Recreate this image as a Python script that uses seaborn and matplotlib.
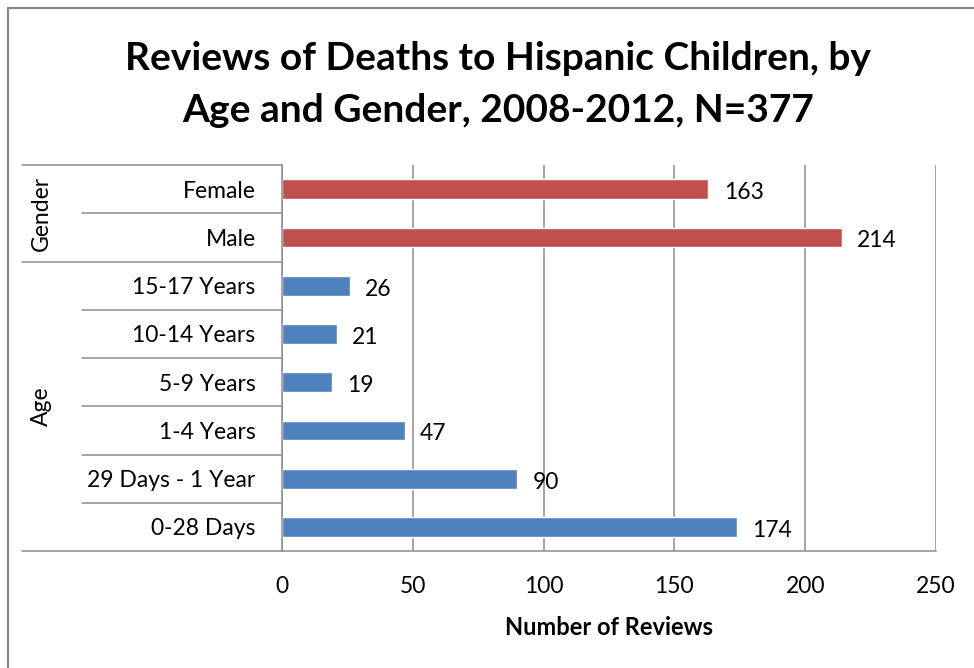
import pandas as pd
import matplotlib.pyplot as plt
import matplotlib.transforms as mtransforms
from matplotlib.lines import Line2D
import seaborn as sns

# chart data, top to bottom
categories = ['Female', 'Male', '15-17 Years', '10-14 Years', '5-9 Years',
              '1-4 Years', '29 Days - 1 Year', '0-28 Days']
groups = ['Gender', 'Gender', 'Age', 'Age', 'Age', 'Age', 'Age', 'Age']
reviews = [163, 214, 26, 21, 19, 47, 90, 174]
x_ticks = [0, 50, 100, 150, 200, 250]

RED = '#C0504D'
BLUE = '#4F81BD'
GRID = '#8C8C8C'
FS = 16.5

df = pd.DataFrame({'category': categories, 'group': groups, 'reviews': reviews})

sns.set_style('white')
plt.rcParams['font.family'] = ['Lato', 'DejaVu Sans']
plt.rcParams['text.color'] = 'black'
plt.rcParams['axes.labelcolor'] = 'black'
plt.rcParams['xtick.labelcolor'] = 'black'
plt.rcParams['ytick.labelcolor'] = 'black'

fig = plt.figure(figsize=(9.74, 6.68), dpi=100)
ax = fig.add_axes([0.2895, 0.1751, 0.6715, 0.5778])

sns.barplot(data=df, y='category', x='reviews', hue='group', orient='h',
            palette={'Gender': RED, 'Age': BLUE}, dodge=False, width=0.41,
            legend=False, saturation=1, ax=ax)

# value labels right of each bar, sitting a touch below centre like Excel
for cont in ax.containers:
    labels = ax.bar_label(cont, padding=11, fontsize=FS, color='black')
    for t in labels:
        t.xyann = (t.xyann[0], t.xyann[1] - 2.5)

n = len(categories)
ax.set_xlim(0, 250)
ax.set_ylim(n - 0.5, -0.5)
ax.set_xticks(x_ticks)
ax.grid(axis='x', color=GRID, linewidth=1.1)
ax.grid(axis='y', visible=False)
ax.set_axisbelow(True)

for side in ['top', 'right']:
    ax.spines[side].set_visible(False)
for side in ['left', 'bottom']:
    ax.spines[side].set_color(GRID)
    ax.spines[side].set_linewidth(1.1)

ax.tick_params(axis='x', direction='out', length=5, width=1.1, color=GRID,
               labelsize=FS, pad=13)
ax.tick_params(axis='y', length=0, labelsize=FS, pad=19)
ax.set_ylabel('')
ax.set_xlabel('Number of Reviews', fontsize=17, fontweight='bold', labelpad=14)

# category separator lines on the left, longer ones between groups
trans = mtransforms.blended_transform_factory(ax.transAxes, ax.transData)
for i in range(n + 1):
    y = i - 0.5
    is_group_edge = i in (0, n) or groups[i - 1] != groups[i]
    x0 = -0.3976 if is_group_edge else -0.3058
    ax.plot([x0, 0], [y, y], color=GRID, linewidth=1.1, transform=trans,
            clip_on=False)

# group labels
for g in ['Gender', 'Age']:
    idx = [i for i, gg in enumerate(groups) if gg == g]
    mid = (idx[0] + idx[-1]) / 2
    ax.text(-0.368, mid, g, rotation=90, ha='center', va='center',
            fontsize=FS, transform=trans)

# two-line title
fig.text(0.511, 0.8952, 'Reviews of Deaths to Hispanic Children, by',
         fontsize=28, fontweight='bold', ha='center', va='baseline')
fig.text(0.511, 0.8174, 'Age and Gender, 2008-2012, N=377',
         fontsize=28, fontweight='bold', ha='center', va='baseline')

# chart frame (left and top edges visible)
fig.add_artist(Line2D([0.0082, 0.0082], [0, 0.988], transform=fig.transFigure,
                      color='#858585', linewidth=1.5))
fig.add_artist(Line2D([0.0082, 1], [0.988, 0.988], transform=fig.transFigure,
                      color='#858585', linewidth=1.5))

fig.savefig('out.png', dpi=100)
